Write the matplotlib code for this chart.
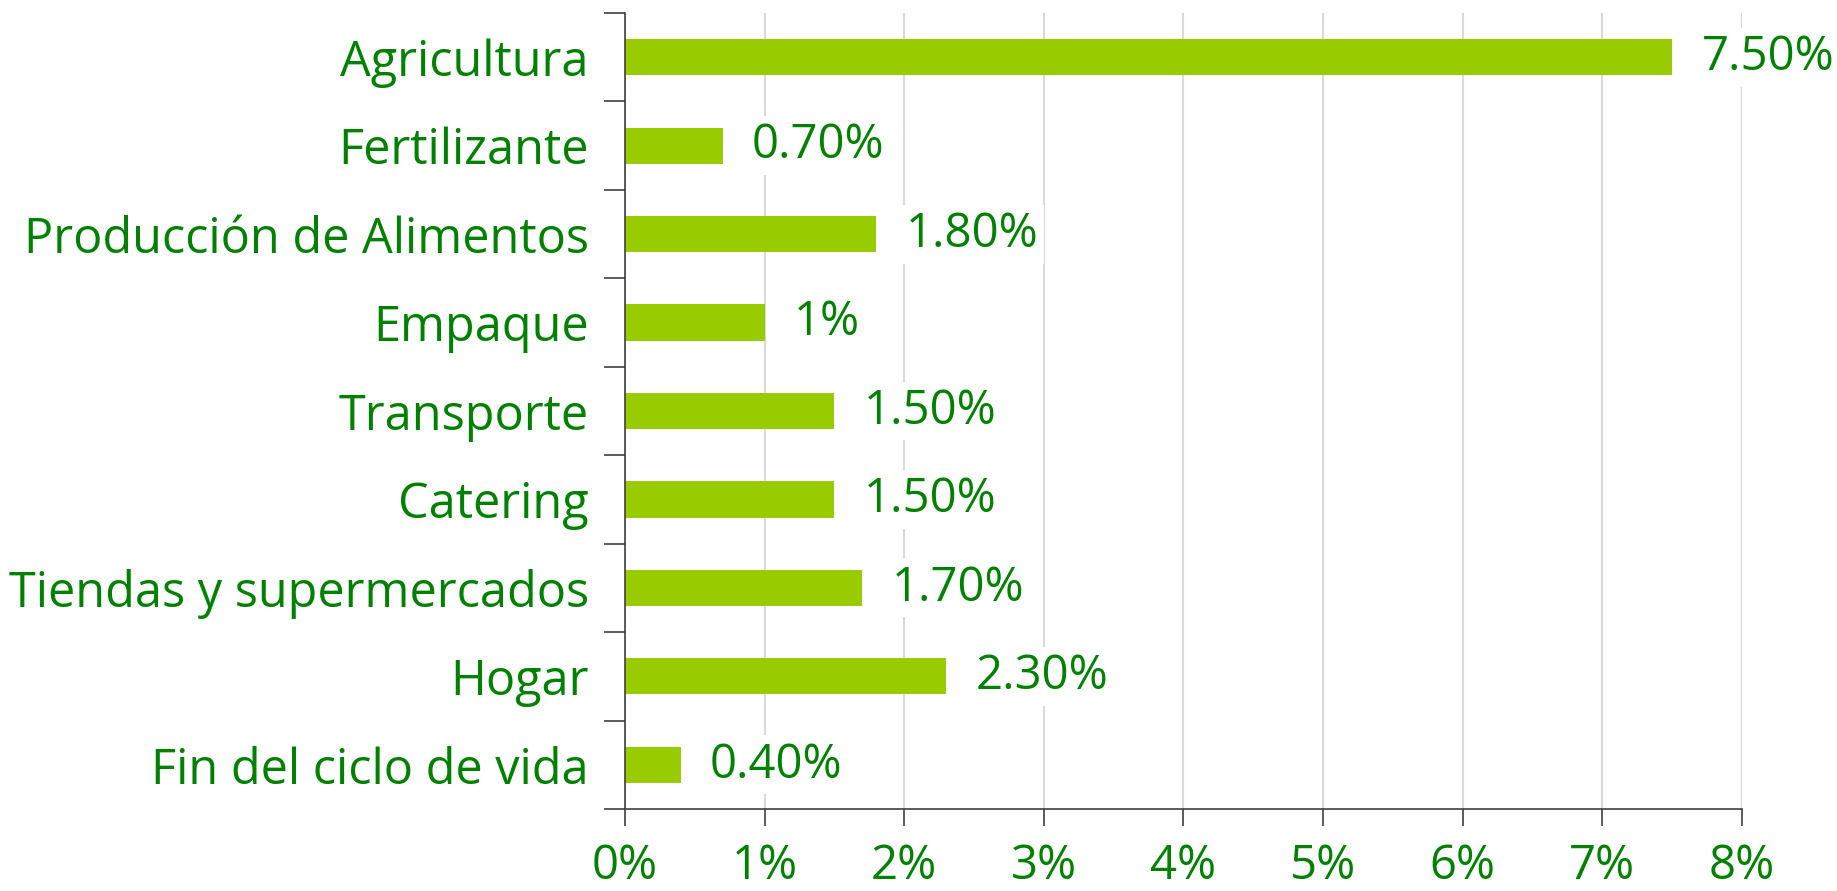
import matplotlib
matplotlib.use("Agg")
import matplotlib.pyplot as plt
import numpy as np
from matplotlib.ticker import FuncFormatter, FixedLocator

categorias = ["Agricultura", "Fertilizante", "Producción de Alimentos", "Empaque",
              "Transporte", "Catering", "Tiendas y supermercados", "Hogar",
              "Fin del ciclo de vida"]
valores = [7.5, 0.7, 1.8, 1.0, 1.5, 1.5, 1.7, 2.3, 0.4]
etiquetas = ["7.50%", "0.70%", "1.80%", "1%", "1.50%", "1.50%", "1.70%", "2.30%", "0.40%"]
xticks = [0, 1, 2, 3, 4, 5, 6, 7, 8]

verde = "#008000"
barra = "#99CC00"

plt.rcParams['font.family'] = ['Open Sans', 'DejaVu Sans']

fig = plt.figure(figsize=(18.37, 8.91), dpi=100)
ax = fig.add_axes([0.3402, 0.092, 0.6081, 0.8934])

y = np.arange(len(categorias))
ax.barh(y, valores, height=0.41, color=barra, zorder=2)

for yi, v, t in zip(y, valores, etiquetas):
    ax.text(v + 0.21, yi, t, va="center", ha="left", fontsize=34, color=verde,
            zorder=3, bbox=dict(facecolor="white", edgecolor="none", pad=4))

ax.set_xlim(0, 8)
ax.set_ylim(len(categorias) - 0.5, -0.5)

ax.set_xticks(xticks)
ax.xaxis.set_major_formatter(FuncFormatter(lambda v, p: f"{int(v)}%"))
ax.tick_params(axis="x", direction="out", length=12, width=1.2, color="#404040",
               labelsize=34, labelcolor=verde, pad=12)

# boundaries as major ticks, labels on minor ticks
ax.yaxis.set_major_locator(FixedLocator(np.arange(-0.5, len(categorias), 1.0)))
ax.yaxis.set_major_formatter(FuncFormatter(lambda v, p: ""))
ax.yaxis.set_minor_locator(FixedLocator(y))
ax.set_yticklabels(categorias, minor=True)
ax.tick_params(axis="y", which="major", direction="out", length=15, width=1.2, color="#404040")
ax.tick_params(axis="y", which="minor", length=0, labelsize=35, labelcolor=verde, pad=26)

ax.grid(axis="x", color="#d9d9d9", linewidth=1.5, zorder=0)
ax.set_axisbelow(True)
for s in ["top", "right"]:
    ax.spines[s].set_visible(False)
for s in ["left", "bottom"]:
    ax.spines[s].set_color("#404040")
    ax.spines[s].set_linewidth(1.2)

fig.savefig("out.png", dpi=100, facecolor="white")
